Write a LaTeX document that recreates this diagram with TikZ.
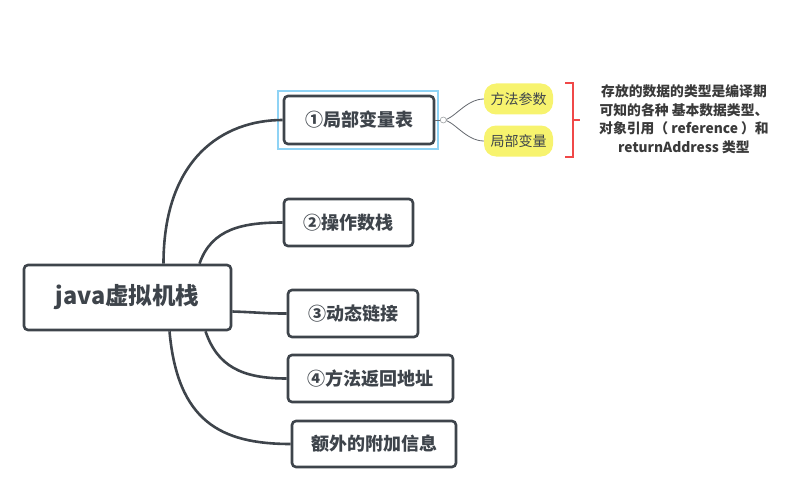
\documentclass[tikz,border=0pt]{standalone}
\usepackage{fontspec}
\setmainfont{Noto Sans CJK SC}
\usetikzlibrary{calc}
\definecolor{ink}{HTML}{3E444B}
\definecolor{hl}{HTML}{8FD3F5}
\definecolor{yel}{HTML}{F7F36E}
\definecolor{brk}{HTML}{F04848}
\definecolor{txt}{HTML}{3A3A3A}
\tikzset{
  topicbox/.style={draw=ink, line width=2.6pt, rounded corners=4pt, fill=white, text=ink, font=\bfseries\fontsize{18}{21}\selectfont, inner sep=0pt},
  conn/.style={draw=ink, line width=2.6pt},
  blob/.style={fill=yel, rounded corners=12pt, text=ink, font=\fontsize{14}{16}\selectfont, minimum width=69pt, minimum height=31pt, inner sep=0pt},
  thin/.style={draw=ink!80, line width=0.8pt}
}
\begin{document}
\begin{tikzpicture}[x={(1pt,0)}, y={(0,-1pt)}]
\useasboundingbox (0,0) rectangle (812,495);
% highlight
\node[draw=hl, line width=1.2pt, minimum width=160pt, minimum height=58pt, inner sep=0pt] (hlbox) at (358,120) {};
% nodes
\node[topicbox, minimum width=207pt, minimum height=65pt, font=\bfseries\fontsize{23.5}{27}\selectfont] (root) at (127.5,297.5) {java虚拟机栈};
\node[topicbox, minimum width=150pt, minimum height=48pt] (n1) at (359,120) {①局部变量表};
\node[topicbox, minimum width=129pt, minimum height=47pt] (n2) at (348.5,222.5) {②操作数栈};
\node[topicbox, minimum width=130pt, minimum height=47pt] (n3) at (353,313.5) {③动态链接};
\node[topicbox, minimum width=165pt, minimum height=47pt] (n4) at (370.5,378.5) {④方法返回地址};
\node[topicbox, minimum width=164pt, minimum height=46pt] (n5) at (374,444) {额外的附加信息};
% sub nodes
\node[blob] (s1) at (518.5,99) {方法参数};
\node[blob] (s2) at (518.5,141) {局部变量};
\node[text=txt, font=\bfseries\fontsize{13.8}{18.5}\selectfont, align=center] (note) at (684,119) {存放的数据的类型是编译期\\可知的各种 基本数据类型、\\对象引用（ reference ）和\\returnAddress 类型};
% connectors
\draw[conn] ([xshift=36pt]root.north) .. controls +(0,-105) and +(-60,0) .. (n1.west);
\draw[conn] ([xshift=72pt]root.north) .. controls +(12,-35) and +(-40,0) .. (n2.west);
\draw[conn] ([yshift=-14pt]root.east) .. controls +(30,1) and +(-25,0) .. (n3.west);
\draw[conn] ([xshift=78pt]root.south) .. controls +(12,35) and +(-45,0) .. (n4.west);
\draw[conn] ([xshift=42pt]root.south) .. controls +(8,90) and +(-70,0) .. (n5.west);
% sub connectors
\coordinate (knot) at ($(n1.east)+(8,0)$);
\draw[thin] (n1.east) -- (knot);
\draw[thin] (knot) .. controls +(10,0) and +(-18,0) .. (s1.west);
\draw[thin] (knot) .. controls +(10,0) and +(-18,0) .. (s2.west);
\draw[draw=ink!50, fill=white, line width=0.6pt] (knot) circle (3pt);
% bracket
\coordinate (b1) at ($(s1.north east)+(12,0)$);
\coordinate (b2) at ($(s2.south east)+(12,0)$);
\draw[brk, line width=2pt] (b1) -- ++(8,0) |- (b2);
\draw[brk, line width=2pt] ($(b1)!0.5!(b2)+(8,0)$) -- ++(7,0);
\end{tikzpicture}
\end{document}
